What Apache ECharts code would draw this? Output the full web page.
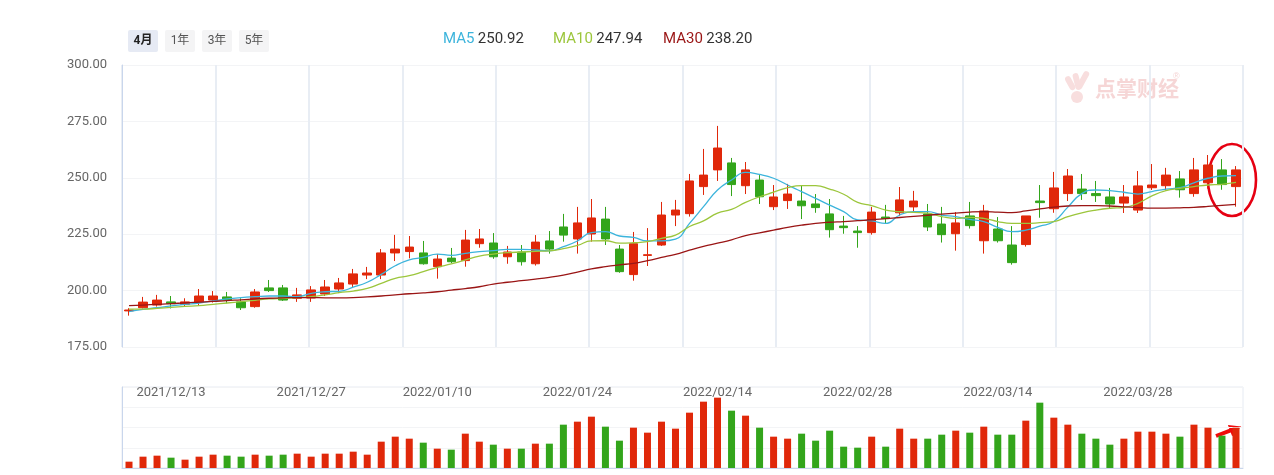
<!DOCTYPE html>
<html><head><meta charset="utf-8">
<script src="https://cdn.jsdelivr.net/npm/echarts@6/dist/echarts.min.js"></script>
<style>html,body{margin:0;padding:0;background:#fff}#c{width:1274px;height:475px}</style>
</head><body><div id="c"></div>
<script>
const dates = [
'2021/12/08','2021/12/09','2021/12/10','2021/12/13','2021/12/14','2021/12/15','2021/12/16','2021/12/17','2021/12/20','2021/12/21',
'2021/12/22','2021/12/23','2021/12/24','2021/12/27','2021/12/28','2021/12/29','2021/12/30','2021/12/31','2022/01/04','2022/01/05',
'2022/01/06','2022/01/07','2022/01/10','2022/01/11','2022/01/12','2022/01/13','2022/01/14','2022/01/17','2022/01/18','2022/01/19',
'2022/01/20','2022/01/21','2022/01/24','2022/01/25','2022/01/26','2022/01/27','2022/01/28','2022/02/07','2022/02/08','2022/02/09',
'2022/02/10','2022/02/11','2022/02/14','2022/02/15','2022/02/16','2022/02/17','2022/02/18','2022/02/21','2022/02/22','2022/02/23',
'2022/02/24','2022/02/25','2022/02/28','2022/03/01','2022/03/02','2022/03/03','2022/03/04','2022/03/07','2022/03/08','2022/03/09',
'2022/03/10','2022/03/11','2022/03/14','2022/03/15','2022/03/16','2022/03/17','2022/03/18','2022/03/21','2022/03/22','2022/03/23',
'2022/03/24','2022/03/25','2022/03/28','2022/03/29','2022/03/30','2022/03/31','2022/04/01','2022/04/06','2022/04/07','2022/04/08'];

const opens = [
191.0,192.4,193.6,195.0,193.9,194.7,195.8,197.2,195.0,192.9,
201.2,201.2,196.6,196.7,198.5,200.7,202.9,206.9,206.9,216.7,
217.3,216.7,210.6,214.4,213.3,220.8,221.1,215.0,217.1,211.9,
222.0,228.2,222.9,225.1,231.7,218.4,207.1,215.6,220.2,233.5,
234.1,246.1,253.5,256.6,246.5,249.0,237.2,239.9,239.7,238.4,
234.0,228.6,226.4,225.7,232.6,234.5,237.1,234.0,229.5,225.2,
233.1,222.1,227.3,220.2,220.4,239.7,236.3,243.0,245.0,243.0,
241.5,238.8,235.7,245.6,246.5,249.5,243.0,247.8,253.5,246.1];
const closes = [
191.4,194.9,195.8,194.2,195.0,197.6,197.6,195.8,192.4,199.4,
200.0,195.8,198.1,200.3,201.6,203.4,207.4,207.8,216.7,218.4,
219.3,211.9,214.0,212.8,222.4,222.9,215.0,217.1,212.8,221.5,
218.4,224.6,230.0,232.2,222.9,208.4,220.8,215.9,233.5,235.7,
248.6,251.2,263.2,247.0,253.5,241.6,241.5,242.8,237.6,236.8,
227.0,227.9,225.7,234.8,231.9,240.2,239.7,228.2,224.8,230.0,
228.8,235.3,222.1,212.4,233.1,239.0,245.5,250.8,243.0,242.1,
238.4,241.5,246.4,246.8,251.2,244.7,253.5,255.7,247.0,253.5];
const lows = [
188.9,192.1,192.9,192.1,192.9,193.6,194.7,194.4,191.4,192.4,
199.4,195.4,195.0,195.0,197.6,198.9,201.6,205.1,205.1,213.1,
214.3,211.5,205.3,212.2,210.6,219.0,214.1,211.9,211.1,211.1,
216.4,221.7,216.4,221.7,220.2,207.9,204.4,210.9,219.8,228.6,
232.8,242.4,248.6,241.9,242.8,238.4,235.7,236.2,231.7,234.5,
223.5,225.2,219.0,224.8,229.7,233.1,234.8,226.4,221.3,217.7,
227.5,216.4,221.3,211.5,219.5,232.3,234.5,239.7,240.2,239.3,
236.6,234.4,234.4,244.6,244.5,241.2,241.6,245.2,244.7,237.2];
const highs = [
192.2,197.2,198.1,197.6,196.6,200.7,199.8,199.4,196.6,200.7,
204.7,202.5,201.2,202.0,204.7,205.6,209.6,210.5,218.4,224.7,
224.2,222.0,216.2,218.9,226.9,227.3,225.5,219.8,220.2,224.6,
226.4,234.0,237.1,240.6,237.1,220.2,226.0,227.7,239.3,240.2,
251.7,262.8,273.0,258.8,257.0,251.2,246.8,247.3,246.4,242.8,
240.6,233.1,228.6,237.1,238.0,245.9,244.2,238.4,237.1,234.8,
239.3,238.0,232.6,228.6,233.1,246.8,252.6,253.9,251.7,248.6,
245.5,246.8,253.0,256.1,254.4,253.0,258.8,260.1,258.3,255.2];

const volumes = [
1900,3400,3700,3100,2500,3400,4000,3700,3400,4000,
3700,4000,4300,3400,4300,4300,4900,4000,7900,9400,
8800,7600,5800,5500,10300,7900,7000,5800,5800,7300,
7300,13000,13900,15400,12400,8200,12100,10600,13900,11800,
16600,19900,21100,17200,15700,12100,9400,8800,10300,8200,
11200,6400,6100,9400,6400,11800,8800,8800,10000,11200,
10600,12400,10000,10000,14200,19600,15100,13000,10300,8800,
7000,8800,10900,10900,10300,9400,13000,12100,9700,12100];

const ma5 = [
190.7,191.7,192.4,193.2,193.9,194.5,195.4,196.3,196.9,197.3,
197.6,197.6,197.3,198.8,199.5,199.7,201.5,203.7,207.2,211.0,
213.6,214.7,216.2,215.6,216.5,217.3,217.7,218.3,218.3,218.0,
217.6,219.5,222.0,225.7,226.1,224.2,223.6,222.0,222.0,222.8,
229.8,237.2,244.6,249.0,252.4,251.5,249.8,246.8,243.9,240.9,
237.9,235.0,231.3,230.9,229.8,233.5,235.0,235.0,233.5,232.8,
231.6,230.6,228.0,226.1,226.8,228.6,230.6,237.0,243.0,244.6,
244.3,243.6,242.8,243.9,245.0,245.6,247.8,249.8,250.8,250.92];
const ma10 = [
191.8,191.8,192.1,192.6,193.0,193.3,193.9,194.5,195.1,195.7,
196.3,196.6,196.9,197.3,198.1,199.1,199.8,201.0,203.2,205.4,
206.6,208.4,210.3,211.8,213.6,215.3,216.2,216.8,217.1,217.4,
217.6,218.6,220.0,222.0,222.1,221.0,221.2,221.7,223.2,224.6,
228.4,230.9,234.3,236.0,239.1,241.6,243.6,245.6,246.5,246.5,
245.0,242.7,239.1,237.7,235.7,235.0,234.7,234.3,232.8,232.0,
232.5,232.0,230.6,229.8,229.8,230.1,230.6,232.8,234.5,235.7,
236.5,236.9,238.7,242.0,244.3,245.3,246.1,246.8,247.1,247.94];
const ma30 = [
193.3,193.6,193.9,194.2,194.6,194.9,195.2,195.6,195.9,196.3,
196.6,196.8,196.9,196.9,196.8,196.8,196.9,197.2,197.6,198.1,
198.6,199.0,199.5,200.2,200.9,201.7,202.9,203.7,204.4,205.1,
205.9,206.9,208.2,209.6,210.6,211.4,212.1,213.3,214.7,216.1,
217.9,219.6,221.0,222.5,224.4,225.6,226.8,228.0,229.0,229.8,
230.3,230.6,231.0,231.4,231.9,232.4,232.9,233.4,233.9,234.3,
234.8,235.0,234.8,234.6,235.3,236.2,237.0,237.5,237.7,237.7,
237.5,237.1,236.8,236.6,236.6,236.7,236.9,237.3,237.8,238.20];

const dateLabels = ['2021/12/13','2021/12/27','2022/01/10','2022/01/24','2022/02/14','2022/02/28','2022/03/14','2022/03/28'];
const periodButtons = ['4月','1年','3年','5年'];
const maNames = ['MA5','MA10','MA30'];

const UP = '#e0280a', DOWN = '#33a51b';
const MA_COLORS = ['#3cb4dc', '#9cc63c', '#9a1515'];
const FONT = 'Roboto, "Noto Sans CJK SC", sans-serif';
const VOL_MAX = 24300;

const kData = dates.map((d, i) => [opens[i], closes[i], lows[i], highs[i]]);
const volData = volumes.map((v, i) => ({ value: v, itemStyle: { color: closes[i] >= opens[i] ? UP : DOWN } }));
const maSeries = [ma5, ma10, ma30];

const chart = echarts.init(document.getElementById('c'), null, { renderer: 'canvas' });

const graphics = [];
periodButtons.forEach((t, i) => {
  graphics.push({
    type: 'group', left: 128 + 37 * i, top: 30,
    children: [
      { type: 'rect', shape: { x: 0, y: 0, width: 30, height: 22, r: 2 }, style: { fill: i === 0 ? '#e6eaf4' : '#f4f4f5' } },
      { type: 'text', x: 15, y: 11, style: { text: t, fill: i === 0 ? '#222' : '#555', font: (i === 0 ? 'bold ' : '') + '12px ' + FONT, textAlign: 'center', textVerticalAlign: 'middle' } }
    ]
  });
});
maNames.forEach((n, k) => {
  const last = maSeries[k][maSeries[k].length - 1];
  graphics.push({
    type: 'text', left: 443 + 110 * k, top: 32,
    style: {
      text: '{a|' + n + '} {b|' + last.toFixed(2) + '}',
      rich: { a: { fill: MA_COLORS[k], fontSize: 15, fontFamily: FONT }, b: { fill: '#333', fontSize: 15, fontFamily: FONT } }
    }
  });
});
// watermark
const WM = '#f8dede';
graphics.push({
  type: 'group', left: 1064, top: 70, silent: true,
  children: [
    { type: 'rect', shape: { x: 0, y: 0, width: 6, height: 15, r: 3 }, rotation: 0.5, x: 3, y: 8, style: { fill: WM } },
    { type: 'rect', shape: { x: 0, y: 0, width: 6, height: 17, r: 3 }, rotation: 0.25, x: 11, y: 4, style: { fill: WM } },
    { type: 'rect', shape: { x: 0, y: 0, width: 6, height: 20, r: 3 }, rotation: -0.5, x: 24, y: 0, style: { fill: WM } },
    { type: 'circle', shape: { cx: 16, cy: 27, r: 6 }, style: { fill: WM } },
    { type: 'text', x: 34, y: 8, style: { text: '点掌财经', fill: '#f6d6d6', font: 'bold 21px "Noto Sans CJK SC", sans-serif' } },
    { type: 'text', x: 112, y: 2, style: { text: '®', fill: '#f6d6d6', font: '9px sans-serif' } }
  ]
});
// annotation ellipse
graphics.push({
  type: 'ellipse', shape: { cx: 1232, cy: 180, rx: 24, ry: 36 }, silent: true,
  style: { fill: 'none', stroke: '#e60012', lineWidth: 2.6 }
});
// annotation arrow
graphics.push({
  type: 'polygon', x: 1216, y: 436, rotation: 0.36, silent: true,
  shape: { points: [[0, -2], [15, -2], [15, -6], [27, 0], [15, 6], [15, 2], [0, 2]] },
  style: { fill: '#f00a0a' }
});

const option = {
  animation: false,
  backgroundColor: '#fff',
  textStyle: { fontFamily: FONT },
  grid: [
    { left: 122, right: 31, top: 65, height: 282 },
    { left: 122, right: 31, top: 387, height: 81, show: true, borderColor: '#e6ebf3', borderWidth: 1, backgroundColor: 'transparent' },
    { left: 122, right: 31, top: 472, height: 20 }
  ],
  xAxis: [
    { gridIndex: 0, type: 'category', data: dates, axisLine: { show: false }, axisTick: { show: false }, axisLabel: { show: false }, splitLine: { show: false } },
    { gridIndex: 0, type: 'value', min: 0, max: 12, interval: 1, position: 'top', axisLine: { show: false }, axisTick: { show: false }, axisLabel: { show: false },
      splitLine: { show: true, lineStyle: { color: '#e8edf4', width: 2 } } },
    { gridIndex: 1, type: 'category', data: dates, position: 'top', axisLine: { show: false }, axisTick: { show: false },
      axisLabel: { inside: true, margin: -1, color: '#666', fontSize: 13, interval: (i, v) => dateLabels.indexOf(v) >= 0 } },
    { gridIndex: 1, type: 'category', data: dates, position: 'bottom', axisLine: { show: true, lineStyle: { color: '#c9d6ec' } }, axisTick: { show: false }, axisLabel: { show: false } },
    { gridIndex: 2, type: 'value', min: 0, max: 1, position: 'top', axisLine: { show: true, lineStyle: { color: '#cccccc' } }, axisTick: { show: false }, axisLabel: { show: false }, splitLine: { show: false } }
  ],
  yAxis: [
    { gridIndex: 0, min: 175, max: 300, interval: 25, axisLine: { show: true, lineStyle: { color: '#c9d6ec' } }, axisTick: { show: false },
      axisLabel: { color: '#666', fontSize: 13, margin: 15, formatter: v => v.toFixed(2) }, splitLine: { lineStyle: { color: '#f3f4f6' } } },
    { gridIndex: 1, min: 0, max: VOL_MAX, interval: VOL_MAX / 4, axisLine: { show: true, lineStyle: { color: '#c9d6ec' } }, axisTick: { show: false },
      axisLabel: { show: false }, splitLine: { lineStyle: { color: '#f3f4f6' } } },
    { gridIndex: 2, show: false }
  ],
  series: [
    { type: 'candlestick', name: 'K', xAxisIndex: 0, yAxisIndex: 0, data: kData, barWidth: 9,
      itemStyle: { color: UP, color0: DOWN, borderColor: UP, borderColor0: DOWN, borderWidth: 1 } },
    ...maNames.map((n, k) => ({
      type: 'line', name: n, xAxisIndex: 0, yAxisIndex: 0, data: maSeries[k], smooth: true, showSymbol: false, symbol: 'none',
      lineStyle: { color: MA_COLORS[k], width: 1.3 }, z: 3
    })),
    { type: 'bar', name: 'VOL', xAxisIndex: 2, yAxisIndex: 1, data: volData, barWidth: 7 }
  ],
  graphic: graphics
};
chart.setOption(option);
</script>
</body></html>
